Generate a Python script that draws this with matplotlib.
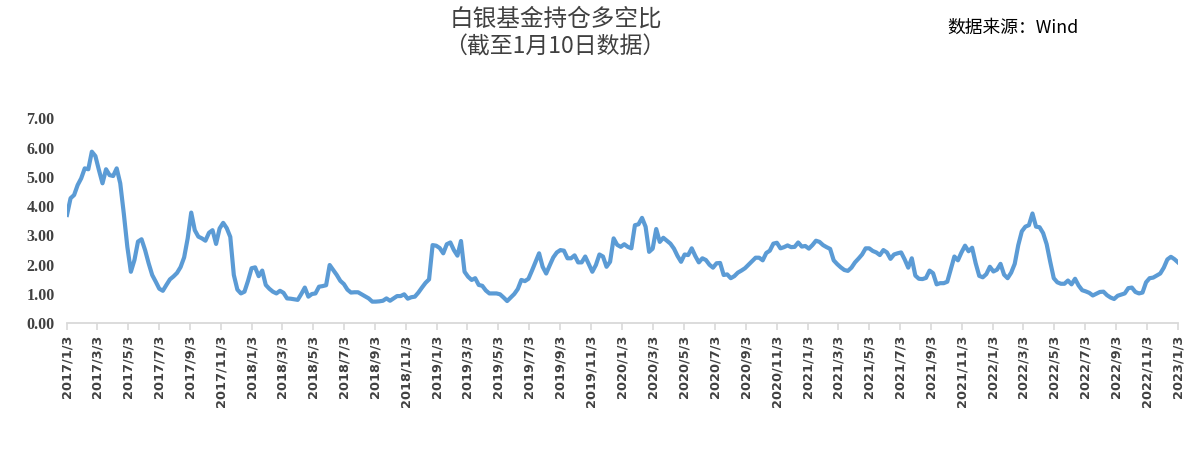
import matplotlib
matplotlib.use('Agg')
import matplotlib.pyplot as plt
import pandas as pd

# ---- data (weekly) ----
start_date = '2017-01-03'
values = [
    3.70, 4.27, 4.38, 4.72, 4.95, 5.29, 5.26, 5.86, 5.71, 5.23,
    4.78, 5.26, 5.06, 5.03, 5.29, 4.78, 3.75, 2.61, 1.76, 2.16,
    2.79, 2.87, 2.50, 2.05, 1.65, 1.42, 1.18, 1.11, 1.31, 1.50,
    1.60, 1.72, 1.92, 2.25, 2.90, 3.78, 3.18, 2.96, 2.90, 2.82,
    3.09, 3.18, 2.71, 3.24, 3.43, 3.25, 2.95, 1.65, 1.15, 1.02,
    1.08, 1.45, 1.88, 1.91, 1.61, 1.80, 1.31, 1.18, 1.08, 1.02,
    1.11, 1.04, 0.85, 0.84, 0.82, 0.80, 1.00, 1.22, 0.91, 1.00,
    1.02, 1.25, 1.27, 1.30, 1.99, 1.82, 1.65, 1.45, 1.34, 1.15,
    1.05, 1.06, 1.06, 0.99, 0.92, 0.85, 0.74, 0.74, 0.75, 0.77,
    0.85, 0.77, 0.85, 0.93, 0.93, 0.99, 0.84, 0.89, 0.91, 1.05,
    1.22, 1.38, 1.50, 2.67, 2.65, 2.57, 2.39, 2.70, 2.76, 2.50,
    2.31, 2.81, 1.76, 1.59, 1.48, 1.54, 1.31, 1.28, 1.12, 1.02,
    1.02, 1.02, 0.99, 0.88, 0.76, 0.88, 1.00, 1.17, 1.48, 1.44,
    1.52, 1.80, 2.10, 2.39, 1.93, 1.70, 1.98, 2.25, 2.42, 2.50,
    2.48, 2.22, 2.22, 2.32, 2.08, 2.08, 2.28, 2.02, 1.76, 1.99,
    2.35, 2.28, 1.93, 2.10, 2.90, 2.68, 2.61, 2.70, 2.61, 2.56,
    3.35, 3.38, 3.60, 3.30, 2.44, 2.55, 3.22, 2.78, 2.92, 2.82,
    2.72, 2.55, 2.30, 2.10, 2.35, 2.33, 2.56, 2.30, 2.08, 2.22,
    2.16, 2.00, 1.90, 2.05, 2.06, 1.65, 1.67, 1.54, 1.61, 1.73,
    1.80, 1.88, 2.00, 2.12, 2.24, 2.24, 2.15, 2.40, 2.48, 2.72,
    2.75, 2.56, 2.60, 2.66, 2.60, 2.61, 2.76, 2.62, 2.64, 2.55,
    2.67, 2.82, 2.78, 2.67, 2.60, 2.54, 2.15, 2.02, 1.91, 1.82,
    1.79, 1.90, 2.08, 2.21, 2.35, 2.56, 2.56, 2.47, 2.42, 2.33,
    2.50, 2.42, 2.20, 2.35, 2.39, 2.42, 2.18, 1.90, 2.22, 1.63,
    1.52, 1.51, 1.55, 1.80, 1.71, 1.33, 1.37, 1.37, 1.42, 1.85,
    2.28, 2.15, 2.42, 2.65, 2.46, 2.58, 2.05, 1.62, 1.57, 1.68,
    1.93, 1.77, 1.83, 2.03, 1.66, 1.54, 1.73, 2.03, 2.67, 3.14,
    3.30, 3.35, 3.75, 3.30, 3.28, 3.08, 2.70, 2.10, 1.54, 1.40,
    1.35, 1.35, 1.46, 1.33, 1.52, 1.29, 1.13, 1.09, 1.04, 0.95,
    1.01, 1.07, 1.08, 0.96, 0.88, 0.83, 0.94, 0.98, 1.02, 1.20,
    1.22, 1.07, 1.02, 1.05, 1.40, 1.54, 1.56, 1.63, 1.70, 1.90,
    2.18, 2.27, 2.19, 2.08,
]
dates = pd.date_range(start_date, periods=len(values), freq='7D')

tick_dates = pd.date_range('2017-01-01', '2023-01-01', freq='2MS') + pd.Timedelta(days=2)
tick_labels = [f"{d.year}/{d.month}/{d.day}" for d in tick_dates]
y_ticks = [0, 1, 2, 3, 4, 5, 6, 7]
y_labels = [f"{v:.2f}" for v in y_ticks]

title_line1 = '白银基金持仓多空比'
title_line2 = '（截至1月10日数据）'
source_text = '数据来源：Wind'

# ---- figure ----
W, H = 1193, 461
fig = plt.figure(figsize=(W / 100, H / 100), dpi=100)
fig.patch.set_facecolor('white')

ax = fig.add_axes([67 / W, (H - 323.3) / H, (1178 - 67) / W, 205 / H])
ax.plot(dates, values, color='#5B9BD5', lw=3.0, solid_joinstyle='round')

ax.set_xlim(tick_dates[0], tick_dates[-1])
ax.set_ylim(0, 7)

for s in ['top', 'right', 'left']:
    ax.spines[s].set_visible(False)
ax.spines['bottom'].set_color('#D9D9D9')
ax.spines['bottom'].set_linewidth(1.3)

ax.set_xticks(tick_dates)
ax.set_xticklabels(tick_labels, rotation=90, fontsize=9.3, fontweight='bold',
                   color='#404040', family='DejaVu Sans')
ax.tick_params(axis='x', direction='out', length=5, width=1.2, color='#D9D9D9', pad=3)

ax.set_yticks(y_ticks)
ax.set_yticklabels(y_labels, fontsize=11.5, fontweight='bold', color='#404040',
                   family='Liberation Serif')
ax.tick_params(axis='y', length=0, pad=9)

cjk = ['Noto Sans CJK SC', 'DejaVu Sans']
fig.text(556 / W, 1 - 19 / H, title_line1, ha='center', va='center',
         fontsize=17, color='#404040', family=cjk)
fig.text(555 / W, 1 - 47 / H, title_line2, ha='center', va='center',
         fontsize=16.5, color='#404040', family=cjk)
fig.text(947 / W, 1 - 28 / H, source_text, ha='left', va='center',
         fontsize=12.8, color='#000000', family=cjk)

fig.savefig('out.png', dpi=100, facecolor='white')
